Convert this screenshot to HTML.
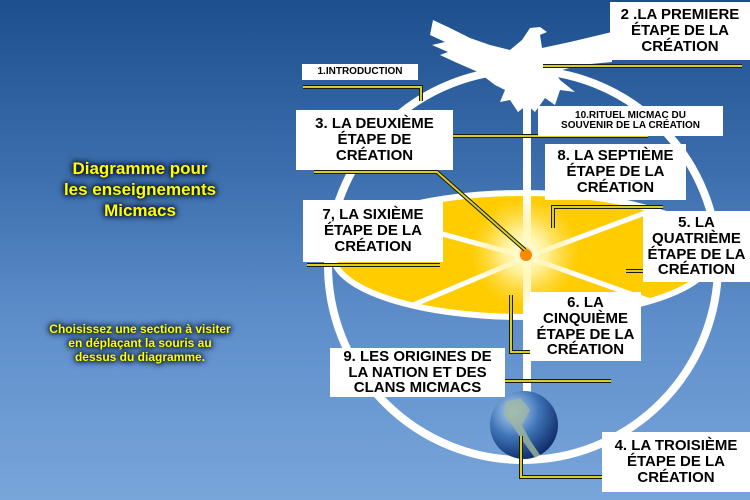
<!DOCTYPE html>
<html><head><meta charset="utf-8"><style>
html,body{margin:0;padding:0}
body{width:750px;height:500px;overflow:hidden;position:relative;background:linear-gradient(180deg,#1d4f8e 0%,#3d6fae 35%,#5f8fcb 65%,#78a5da 100%);font-family:"Liberation Sans",sans-serif}
svg{position:absolute;left:0;top:0}
.l{position:absolute;background:#fff;color:#000;font-weight:bold;text-align:center;line-height:1.05;display:flex;align-items:center;justify-content:center}
.y{position:absolute;color:#ffff00;font-weight:bold;text-align:center;text-shadow:0 0 4px #000,0 0 6px #0a1a3a,0 0 8px #0a1a3a}
</style></head><body>
<svg width="750" height="500">
<defs>
<radialGradient id="sun" cx="0.5" cy="0.5" r="0.5">
<stop offset="0" stop-color="#ff7a00"/><stop offset="0.12" stop-color="#fffbd0"/><stop offset="0.4" stop-color="#fff6b0" stop-opacity="0.85"/><stop offset="1" stop-color="#ffe066" stop-opacity="0"/></radialGradient>
<radialGradient id="globe" cx="0.35" cy="0.3" r="0.75">
<stop offset="0" stop-color="#b9d6f4"/><stop offset="0.5" stop-color="#3f74b8"/><stop offset="1" stop-color="#0d2a66"/></radialGradient>
<clipPath id="ec"><ellipse cx="523" cy="255" rx="190" ry="62"/></clipPath>
</defs>
<circle cx="523" cy="265" r="195" fill="none" stroke="#fff" stroke-width="8"/>
<ellipse cx="523" cy="255" rx="190" ry="62" fill="#ffcc00" stroke="#fff" stroke-width="6"/>
<g stroke="#fff" stroke-width="5" clip-path="url(#ec)">
<line x1="527" y1="257" x2="280" y2="190"/>
<line x1="527" y1="257" x2="330" y2="340"/>
<line x1="527" y1="257" x2="760" y2="170"/>
<line x1="527" y1="257" x2="760" y2="340"/>
</g>
<line x1="527" y1="100" x2="527" y2="400" stroke="#fff" stroke-width="8"/>
<circle cx="525" cy="252" r="55" fill="url(#sun)"/>
<circle cx="526" cy="255" r="6" fill="#ff8800"/>
<path d="M433,20 L450,28 L470,38 L490,45 L510,50 L522,40 L530,28 L540,27 L547,32 L540,35 L542,48 L570,42 L612,32 L612,62 L580,65 L555,72 L560,80 L575,92 L560,90 L555,105 L545,98 L535,112 L527,105 L518,112 L510,100 L500,102 L505,90 L495,85 L478,72 L455,62 L440,55 L448,52 L432,45 L445,42 L430,35 Z" fill="#fff"/>
<circle cx="524" cy="425" r="34" fill="url(#globe)"/>
<path d="M505,402 L520,398 L530,410 L522,425 L530,440 L540,455 L535,458 L522,440 L512,425 L504,415 Z" fill="#9fb7a0" opacity="0.8"/>
<g fill="none" stroke-linejoin="miter">
<g stroke="#1a1a1a" stroke-width="4">
<polyline points="303,87 421,87 421,101"/>
<polyline points="543,66 742,66"/>
<polyline points="453,136 648,136"/>
<polyline points="314,172 437,172 525,250"/>
<polyline points="553,228 553,207 663,207"/>
<polyline points="307,265 440,265"/>
<polyline points="626,271 643,271"/>
<polyline points="511,295 511,352 530,352"/>
<polyline points="505,381 611,381"/>
<polyline points="521,436 521,477 602,477"/>
</g>
<g stroke="#d8d020" stroke-width="2">
<polyline points="303,87 421,87 421,101"/>
<polyline points="543,66 742,66"/>
<polyline points="453,136 648,136"/>
<polyline points="314,172 437,172 525,250"/>
<polyline points="553,228 553,207 663,207"/>
<polyline points="307,265 440,265"/>
<polyline points="626,271 643,271"/>
<polyline points="511,295 511,352 530,352"/>
<polyline points="505,381 611,381"/>
<polyline points="521,436 521,477 602,477"/>
</g>
</g>
</svg>
<div class="l" style="left:302px;top:64px;width:116px;height:16px;font-size:10px">1.INTRODUCTION</div>
<div class="l" style="left:610px;top:2px;width:140px;height:58px;font-size:15px">2 .LA PREMIERE<br>ÉTAPE DE LA<br>CRÉATION</div>
<div class="l" style="left:296px;top:110px;width:157px;height:60px;font-size:15px">3. LA DEUXIÈME<br>ÉTAPE DE<br>CRÉATION</div>
<div class="l" style="left:538px;top:106px;width:185px;height:30px;font-size:10px">10.RITUEL MICMAC DU<br>SOUVENIR DE LA CRÉATION</div>
<div class="l" style="left:545px;top:144px;width:141px;height:56px;font-size:15px">8. LA SEPTIÈME<br>ÉTAPE DE LA<br>CRÉATION</div>
<div class="l" style="left:303px;top:200px;width:140px;height:62px;font-size:15px">7, LA SIXIÈME<br>ÉTAPE DE LA<br>CRÉATION</div>
<div class="l" style="left:643px;top:211px;width:107px;height:71px;font-size:15px">5. LA<br>QUATRIÈME<br>ÉTAPE DE LA<br>CRÉATION</div>
<div class="l" style="left:530px;top:292px;width:111px;height:69px;font-size:15px">6. LA<br>CINQUIÈME<br>ÉTAPE DE LA<br>CRÉATION</div>
<div class="l" style="left:330px;top:348px;width:175px;height:49px;font-size:15px">9. LES ORIGINES DE<br>LA NATION ET DES<br>CLANS MICMACS</div>
<div class="l" style="left:602px;top:432px;width:148px;height:60px;font-size:15px">4. LA TROISIÈME<br>ÉTAPE DE LA<br>CRÉATION</div>
<div class="y" style="left:40px;top:158px;width:200px;font-size:17px;line-height:21px">Diagramme pour<br>les enseignements<br>Micmacs</div>
<div class="y" style="left:20px;top:322px;width:240px;font-size:12px;line-height:14px">Choisissez une section à visiter<br>en déplaçant la souris au<br>dessus du diagramme.</div>
</body></html>
